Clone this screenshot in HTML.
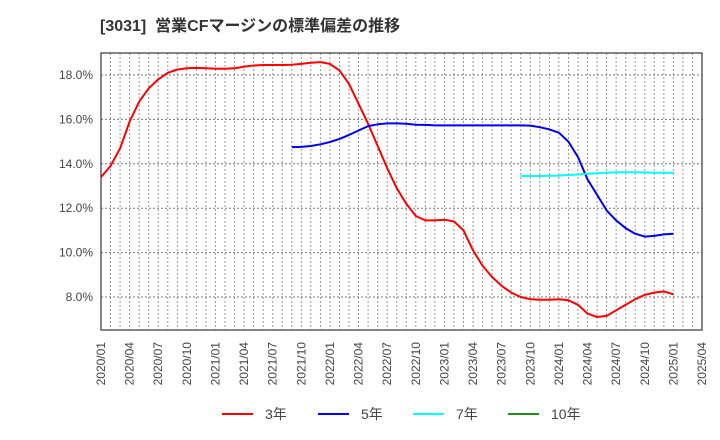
<!DOCTYPE html>
<html><head><meta charset="utf-8"><style>
body{margin:0;background:#fff;}
svg{display:block;font-family:"Liberation Sans","Noto Sans CJK JP",sans-serif;}
</style></head><body>
<svg id="chart" width="720" height="440">
<text x="100" y="31" font-size="16" font-weight="bold" fill="#333">[3031]&#160; 営業CFマージンの標準偏差の推移</text>
<g id="grid"></g>
<g id="axes"></g>
<g id="series"></g>
<g id="legend"></g>
</svg>
<script>
const red3=[13.4,13.9,14.7,15.9,16.8,17.4,17.8,18.1,18.25,18.3,18.32,18.3,18.28,18.28,18.3,18.38,18.43,18.45,18.45,18.45,18.46,18.5,18.55,18.58,18.5,18.2,17.6,16.7,15.8,14.8,13.8,12.9,12.2,11.65,11.45,11.45,11.48,11.4,11.0,10.1,9.4,8.9,8.5,8.2,8.0,7.9,7.88,7.88,7.9,7.85,7.65,7.25,7.1,7.15,7.4,7.65,7.9,8.1,8.2,8.25,8.12];
const blue5Start=20;
const blue5=[14.75,14.76,14.8,14.88,14.98,15.12,15.3,15.5,15.7,15.78,15.82,15.82,15.8,15.76,15.75,15.73,15.73,15.73,15.73,15.73,15.73,15.73,15.73,15.73,15.73,15.72,15.65,15.55,15.4,15.0,14.3,13.3,12.6,11.9,11.45,11.1,10.85,10.72,10.75,10.82,10.85];
const cyan7Start=44;
const cyan7=[13.45,13.45,13.45,13.46,13.47,13.5,13.52,13.55,13.57,13.6,13.62,13.62,13.62,13.61,13.6,13.6,13.6];
const yTicks=[8,10,12,14,16,18];
const xTickLabels=["2020/01","2020/04","2020/07","2020/10","2021/01","2021/04","2021/07","2021/10","2022/01","2022/04","2022/07","2022/10","2023/01","2023/04","2023/07","2023/10","2024/01","2024/04","2024/07","2024/10","2025/01","2025/04"];
const L=101,R=702,T=53,B=330,NM=63;
const x=i=>L+(R-L)*i/NM;
const y=v=>75+(18-v)*22.2;
const NS="http://www.w3.org/2000/svg";
function mk(tag,attrs,parent){const e=document.createElementNS(NS,tag);for(const k in attrs)e.setAttribute(k,attrs[k]);parent.appendChild(e);return e;}
const grid=document.getElementById('grid'),axes=document.getElementById('axes'),ser=document.getElementById('series'),leg=document.getElementById('legend');
for(let i=1;i<NM;i++){const l=mk('line',{x1:x(i),x2:x(i),y1:T,y2:B,stroke:'#999','stroke-dasharray':'2,2','stroke-width':1},grid);

}
yTicks.forEach(v=>{const l=mk('line',{x1:L,x2:R,y1:y(v),y2:y(v),stroke:'#777','stroke-dasharray':'2,2','stroke-width':1},grid);


const t=mk('text',{x:L-8,y:y(v)+4,'text-anchor':'end','font-size':12,fill:'#444'},axes);t.textContent=v.toFixed(1)+'%';

});
const fr=mk('rect',{x:L,y:T,width:R-L,height:B-T,fill:'none',stroke:'#444','stroke-width':1.3},axes);


xTickLabels.forEach((s,k)=>{const xx=x(k*3)+4;const t=mk('text',{x:0,y:0,transform:`translate(${xx},342) rotate(-90)`,'text-anchor':'end','font-size':12,fill:'#444'},axes);t.textContent=s;

});
function line(arr,start,color,name){const p=arr.map((v,i)=>x(start+i).toFixed(1)+','+y(v).toFixed(1)).join(' ');const e=mk('polyline',{points:p,fill:'none',stroke:color,'stroke-width':2,'stroke-linejoin':'round'},ser);

}
line(red3,0,'#ff0000','series-3yr');
line(blue5,blue5Start,'#0000ee','series-5yr');
line(cyan7,cyan7Start,'#00ffff','series-7yr');
const legItems=[['3年','#ff0000',222],['5年','#0000ee',318],['7年','#00ffff',413],['10年','#228b22',508]];
legItems.forEach(([lab,c,lx])=>{const g=mk('g',{},leg);


mk('line',{x1:lx,x2:lx+31,y1:414,y2:414,stroke:c,'stroke-width':2},g);
const t=mk('text',{x:lx+43,y:419,'font-size':14,fill:'#444'},g);t.textContent=lab;});
</script>
</body></html>
